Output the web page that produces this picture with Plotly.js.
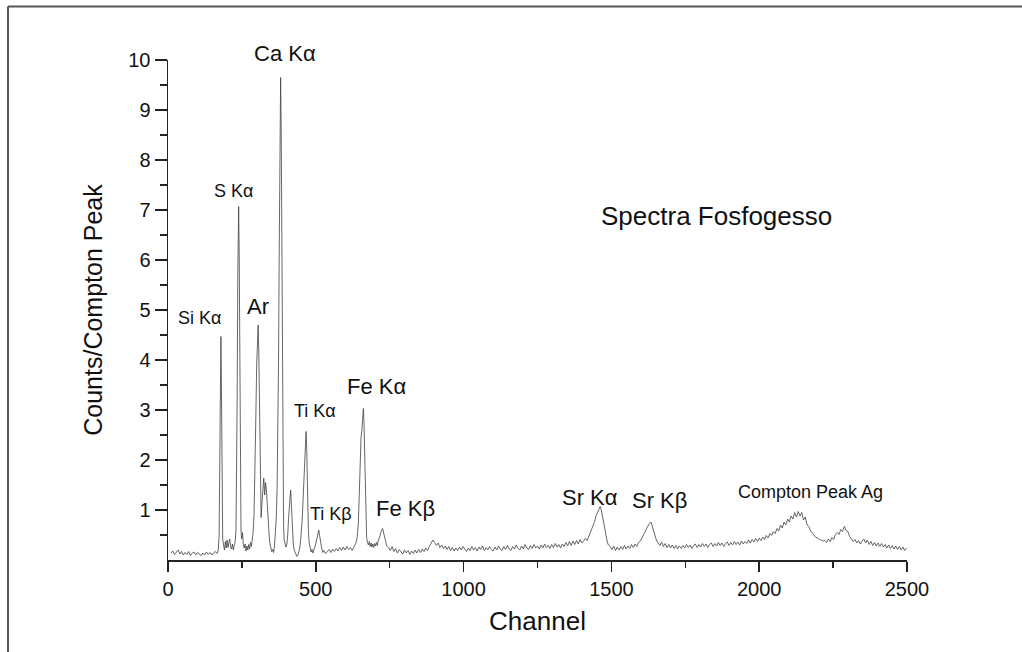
<!DOCTYPE html>
<html>
<head>
<meta charset="utf-8">
<script src="https://cdn.plot.ly/plotly-3.0.1.min.js"></script>
<style>
html,body{margin:0;padding:0;background:#fff;}
#chart{width:1022px;height:652px;}
</style>
</head>
<body>
<div id="chart"></div>
<script>
// Channel numbers (x) and Counts/Compton Peak values (y)
const channel = [
 10,16,22,28,34,40,46,52,58,64,70,76,82,88,94,100,106,112,118,124,130,136,142,148,154,160,166,
 170,173,175,177,179,181,183,185,
 188,191,194,197,200,203,206,209,212,215,218,221,224,227,
 230,232,234,236,238,239,241,243,245,247,249,
 252,255,258,261,264,267,270,273,276,279,282,285,288,
 291,294,297,300,303,305,307,309,311,313,315,
 318,321,324,327,330,333,336,339,342,345,348,351,354,357,360,363,366,
 369,372,374,376,378,380,381,383,385,387,389,391,393,396,399,402,
 405,408,411,413,415,417,419,421,424,427,430,433,436,439,442,445,448,
 451,454,457,460,463,465,467,469,471,473,475,478,481,484,487,490,493,496,499,
 502,505,508,510,512,515,518,521,524,
 527,533,539,545,551,557,563,569,575,581,587,593,599,605,611,617,623,629,635,640,
 644,647,650,653,656,659,661,663,665,667,669,672,675,678,681,684,687,690,693,696,699,702,705,708,711,714,
 717,720,723,726,728,731,734,737,740,
 746,752,758,764,770,776,782,788,794,800,806,812,818,824,830,836,842,848,854,860,866,872,878,884,890,896,902,908,914,920,
 926,932,938,944,950,956,962,968,974,980,986,992,998,1004,1010,1016,1022,1028,1034,1040,1046,1052,1058,1064,1070,1076,1082,1088,1094,1100,
 1106,1112,1118,1124,1130,1136,1142,1148,1154,1160,1166,1172,1178,1184,1190,1196,1202,1208,1214,1220,1226,1232,1238,1244,1250,1256,1262,1268,1274,1280,
 1286,1292,1298,1304,1310,1316,1322,1328,1334,1340,1346,1352,1358,1364,1370,1376,1382,1388,1394,1400,
 1406,1412,1418,1424,1430,1436,1442,1448,1454,1458,1462,1466,1470,1474,1478,1482,1486,1490,1496,1502,1508,1514,1520,1526,1532,1538,1544,1550,1556,1562,
 1568,1574,1580,1586,1592,1598,1604,1610,1616,1622,1628,1634,1640,1646,1652,1658,1664,1670,1676,1682,1688,1694,1700,1706,1712,1718,1724,1730,1736,1742,
 1748,1754,1760,1766,1772,1778,1784,1790,1796,1802,1808,1814,1820,1826,1832,1838,1844,1850,1856,1862,1868,1874,1880,1886,1892,1898,1904,1910,1916,1922,
 1928,1934,1940,1946,1952,1958,1964,1970,1976,1982,1988,1994,2000,2006,2012,2018,2024,2030,2036,2042,2048,2054,2060,2066,2072,2078,2084,2090,2096,2102,
 2108,2114,2120,2126,2132,2138,2144,2150,2156,2162,2168,2174,2180,2186,2192,2198,2204,2210,2216,2222,2228,2234,2240,2246,2252,2258,2264,2270,2276,2282,
 2288,2294,2300,2306,2312,2318,2324,2330,2336,2342,2348,2354,2360,2366,2372,2378,2384,2390,2396,2402,2408,2414,2420,2426,2432,2438,2444,2450,2456,2462,
 2468,2474,2480,2486,2492,2498
];
const counts = [
 0.13,0.18,0.11,0.16,0.20,0.12,0.17,0.10,0.15,0.11,0.17,0.09,0.14,0.16,0.10,0.15,0.11,0.09,0.14,0.10,0.16,0.11,0.15,0.10,0.14,0.17,0.13,
 0.20,0.50,1.50,3.40,4.47,3.30,1.20,0.42,
 0.30,0.20,0.37,0.24,0.40,0.25,0.35,0.42,0.26,0.22,0.32,0.20,0.29,0.36,
 0.60,1.40,3.20,5.60,6.80,7.07,6.00,3.10,1.20,0.60,0.42,
 0.55,0.30,0.24,0.32,0.18,0.28,0.20,0.31,0.22,0.35,0.27,0.41,0.55,
 0.90,1.60,2.80,3.90,4.50,4.70,4.20,3.00,1.80,1.10,0.85,
 1.15,1.45,1.64,1.30,1.55,1.40,1.05,0.75,0.50,0.32,0.22,0.17,0.21,0.15,0.26,0.45,0.80,
 1.40,2.50,4.00,6.00,8.20,9.40,9.65,8.60,5.80,3.00,1.40,0.70,0.40,0.30,0.26,0.32,
 0.50,0.85,1.20,1.38,1.40,1.15,0.80,0.50,0.30,0.20,0.14,0.10,0.07,0.09,0.14,0.22,0.35,
 0.55,0.80,1.20,1.70,2.20,2.50,2.57,2.30,1.70,1.00,0.55,0.33,0.22,0.16,0.21,0.14,0.20,0.24,0.30,
 0.38,0.48,0.58,0.60,0.52,0.38,0.27,0.20,0.15,
 0.19,0.13,0.18,0.21,0.15,0.22,0.17,0.23,0.18,0.25,0.19,0.26,0.20,0.27,0.21,0.25,0.19,0.28,0.33,0.45,
 0.75,1.30,2.00,2.45,2.60,2.95,3.03,2.75,2.10,1.30,0.75,0.45,0.35,0.30,0.37,0.27,0.34,0.26,0.32,0.25,0.33,0.28,0.35,0.29,0.38,0.42,
 0.48,0.55,0.60,0.63,0.58,0.50,0.40,0.33,0.28,
 0.25,0.19,0.27,0.17,0.23,0.14,0.21,0.16,0.12,0.20,0.14,0.19,0.11,0.18,0.13,0.20,0.14,0.21,0.15,0.22,0.17,0.24,0.19,0.27,0.33,0.40,0.35,0.29,0.34,0.25,
 0.30,0.23,0.28,0.21,0.27,0.19,0.25,0.18,0.24,0.19,0.26,0.20,0.27,0.21,0.17,0.24,0.19,0.27,0.20,0.25,0.18,0.26,0.21,0.28,0.19,0.25,0.20,0.27,0.21,0.18,
 0.26,0.20,0.28,0.22,0.19,0.27,0.21,0.29,0.22,0.19,0.27,0.22,0.30,0.23,0.20,0.28,0.22,0.31,0.24,0.21,0.29,0.23,0.31,0.24,0.28,0.22,0.30,0.24,0.32,0.25,
 0.29,0.23,0.31,0.25,0.33,0.26,0.31,0.24,0.32,0.27,0.35,0.28,0.37,0.29,0.38,0.31,0.39,0.32,0.41,0.34,
 0.38,0.43,0.39,0.48,0.55,0.62,0.75,0.88,0.98,1.03,1.07,1.00,0.88,0.72,0.58,0.45,0.36,0.30,0.27,0.21,0.28,0.19,0.26,0.20,0.27,0.21,0.29,0.22,0.28,0.23,
 0.31,0.25,0.32,0.27,0.35,0.38,0.45,0.52,0.60,0.68,0.73,0.76,0.65,0.50,0.40,0.34,0.29,0.36,0.27,0.33,0.25,0.31,0.24,0.30,0.23,0.29,0.22,0.28,0.23,0.29,
 0.24,0.31,0.25,0.30,0.23,0.29,0.32,0.25,0.31,0.26,0.33,0.27,0.32,0.25,0.31,0.34,0.27,0.33,0.28,0.35,0.29,0.34,0.27,0.33,0.36,0.29,0.35,0.30,0.37,0.31,
 0.36,0.30,0.38,0.32,0.37,0.33,0.40,0.34,0.41,0.36,0.43,0.37,0.44,0.39,0.46,0.41,0.49,0.44,0.53,0.49,0.57,0.53,0.63,0.58,0.70,0.64,0.76,0.70,0.82,0.76,
 0.88,0.82,0.95,0.86,0.97,0.88,0.95,0.80,0.86,0.70,0.67,0.58,0.53,0.48,0.45,0.44,0.41,0.40,0.38,0.39,0.35,0.42,0.37,0.45,0.41,0.51,0.55,0.51,0.61,0.57,
 0.67,0.59,0.57,0.47,0.43,0.37,0.41,0.34,0.39,0.32,0.38,0.42,0.34,0.40,0.31,0.37,0.29,0.35,0.28,0.34,0.27,0.33,0.26,0.31,0.24,0.30,0.23,0.29,0.22,0.28,
 0.21,0.27,0.20,0.26,0.19,0.24
];
const xTicks = [0, 500, 1000, 1500, 2000, 2500];
const yTicks = [1, 2, 3, 4, 5, 6, 7, 8, 9, 10];
const peakLabels = ["Si K\u03b1", "S K\u03b1", "Ar", "Ca K\u03b1", "Ti K\u03b1", "Ti K\u03b2", "Fe K\u03b1", "Fe K\u03b2", "Sr K\u03b1", "Sr K\u03b2", "Compton Peak Ag"];
const chartLabel = "Spectra Fosfogesso";

// label placement (layout only); Ca Kα sits above the plot, so it uses paper y
const labelPos = [
  {x:107, y:4.84, s:18, yref:'y'},
  {x:223, y:7.38, s:18, yref:'y'},
  {x:304, y:5.08, s:22, yref:'y'},
  {x:396, y:1.012, s:22, yref:'paper'},
  {x:497, y:2.98, s:18, yref:'y'},
  {x:551, y:0.92, s:18, yref:'y'},
  {x:707, y:3.48, s:22, yref:'y'},
  {x:805, y:1.04, s:22, yref:'y'},
  {x:1428, y:1.26, s:22, yref:'y'},
  {x:1664, y:1.20, s:22, yref:'y'},
  {x:2172, y:1.36, s:18, yref:'y'}
];

const FONT = "Liberation Sans, Arial, Helvetica, sans-serif";
const annotations = peakLabels.map((t, i) => ({
  x: labelPos[i].x, y: labelPos[i].y, xref: 'x', yref: labelPos[i].yref,
  text: t, showarrow: false, xanchor: 'center', yanchor: 'middle',
  font: {family: FONT, size: labelPos[i].s, color: '#111'}
}));
annotations.push({
  x: 1857, y: 6.88, xref: 'x', yref: 'y', text: chartLabel, showarrow: false,
  xanchor: 'center', yanchor: 'middle', font: {family: FONT, size: 26, color: '#111'}
});

const trace = {
  x: channel, y: counts, type: 'scatter', mode: 'lines',
  line: {color: '#404040', width: 0.8}, hoverinfo: 'skip'
};

const layout = {
  width: 1022, height: 652,
  margin: {l: 168, r: 115, t: 60, b: 92, pad: 0},
  paper_bgcolor: '#fff', plot_bgcolor: '#fff',
  showlegend: false,
  font: {family: FONT, color: '#111'},
  xaxis: {
    range: [0, 2500], tickmode: 'array', tickvals: xTicks, ticktext: xTicks.map(String),
    ticks: 'outside', ticklen: 10, tickwidth: 1.5, tickcolor: '#222',
    minor: {tickmode: 'linear', tick0: 0, dtick: 250, ticks: 'outside', ticklen: 6, tickwidth: 1.5, tickcolor: '#222'},
    showline: true, linecolor: '#222', linewidth: 1.5,
    showgrid: false, zeroline: false,
    tickfont: {family: FONT, size: 20, color: '#111'},
    title: {text: 'Channel', font: {family: FONT, size: 26, color: '#111'}, standoff: 13}
  },
  yaxis: {
    range: [0, 10], tickmode: 'array', tickvals: yTicks, ticktext: yTicks.map(String),
    ticks: 'outside', ticklen: 12, tickwidth: 1.5, tickcolor: '#222',
    minor: {tickmode: 'linear', tick0: 0.5, dtick: 1, ticks: 'outside', ticklen: 7, tickwidth: 1.5, tickcolor: '#222'},
    showline: true, linecolor: '#222', linewidth: 1.5,
    showgrid: false, zeroline: false,
    tickfont: {family: FONT, size: 20, color: '#111'},
    title: {text: 'Counts/Compton Peak', font: {family: FONT, size: 25, color: '#111'}, standoff: 18}
  },
  annotations: annotations,
  shapes: [
    {type: 'line', xref: 'paper', yref: 'paper', x0: -0.2165, x1: -0.2165, y0: -0.2, y1: 1.107, line: {color: '#555', width: 2}},
    {type: 'line', xref: 'paper', yref: 'paper', x0: -0.2165, x1: 1.2, y0: 1.107, y1: 1.107, line: {color: '#555', width: 2}}
  ]
};

Plotly.newPlot('chart', [trace], layout, {displayModeBar: false, staticPlot: true});
</script>
</body>
</html>
